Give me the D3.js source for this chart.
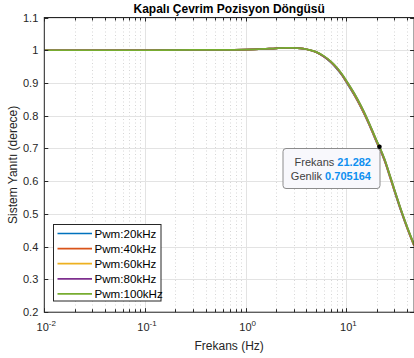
<!DOCTYPE html>
<html>
<head>
<meta charset="utf-8">
<script src="https://cdn.jsdelivr.net/npm/d3@7"></script>
<style>
  body { margin: 0; background: #fff; }
  svg { display: block; font-family: 'Liberation Sans', Arial, sans-serif; }
  .tick-label { font-size: 11px; fill: #262626; }
</style>
</head>
<body>
<div id="chart"></div>
<script>
const seriesNames = ['Pwm:20kHz', 'Pwm:40kHz', 'Pwm:60kHz', 'Pwm:80kHz', 'Pwm:100kHz'];
const seriesColors = ['#0072BD', '#D95319', '#EDB120', '#7E2F8E', '#77AC30'];

const freqs = [0.01, 0.03, 0.1, 0.3, 0.6, 1, 1.5, 2, 2.5, 3, 3.5, 4, 5, 6, 7, 8, 9, 10, 12, 14, 16, 18, 20, 21.282, 24, 27, 30, 35, 40, 47];

const pwm20 = [1.000, 1.000, 1.000, 1.001, 1.001, 1.002, 1.004, 1.006, 1.007, 1.007, 1.006, 1.003, 0.994, 0.980, 0.963, 0.944, 0.924, 0.902, 0.862, 0.824, 0.787, 0.751, 0.718, 0.700, 0.661, 0.613, 0.569, 0.507, 0.457, 0.402];
const pwm40 = [1.000, 1.000, 1.000, 1.001, 1.001, 1.002, 1.004, 1.006, 1.007, 1.007, 1.006, 1.003, 0.994, 0.980, 0.964, 0.945, 0.925, 0.903, 0.863, 0.825, 0.788, 0.752, 0.719, 0.701, 0.662, 0.614, 0.570, 0.508, 0.458, 0.403];
const pwm60 = [1.000, 1.000, 1.000, 1.001, 1.001, 1.002, 1.004, 1.006, 1.007, 1.007, 1.006, 1.003, 0.995, 0.981, 0.965, 0.946, 0.926, 0.905, 0.865, 0.827, 0.790, 0.754, 0.721, 0.703, 0.664, 0.616, 0.572, 0.509, 0.459, 0.404];
const pwm80 = [1.000, 1.000, 1.000, 1.001, 1.001, 1.002, 1.004, 1.006, 1.007, 1.007, 1.006, 1.003, 0.995, 0.981, 0.965, 0.947, 0.927, 0.906, 0.867, 0.829, 0.792, 0.756, 0.723, 0.705, 0.666, 0.618, 0.574, 0.511, 0.461, 0.406];
const pwm100 = [1.000, 1.000, 1.000, 1.001, 1.001, 1.002, 1.004, 1.006, 1.007, 1.007, 1.006, 1.003, 0.995, 0.982, 0.966, 0.948, 0.928, 0.907, 0.868, 0.830, 0.793, 0.757, 0.724, 0.706, 0.667, 0.619, 0.575, 0.512, 0.462, 0.407];
const seriesValues = [pwm20, pwm40, pwm60, pwm80, pwm100];

const yTicks = [0.2, 0.3, 0.4, 0.5, 0.6, 0.7, 0.8, 0.9, 1, 1.1];
const xDecades = [0.01, 0.1, 1, 10];
const xDecadeLabels = ['-2', '-1', '0', '1'];
const xMinor = [0.02, 0.03, 0.04, 0.05, 0.06, 0.07, 0.08, 0.09, 0.2, 0.3, 0.4, 0.5, 0.6, 0.7, 0.8, 0.9, 2, 3, 4, 5, 6, 7, 8, 9, 20, 30, 40];

const tipFreq = 21.282;
const tipAmp = 0.705164;

const width = 414;
const height = 358;
const plotLeft = 44.3;
const plotRight = 414.1;
const plotTop = 17.5;
const plotBottom = 312.2;

const svg = d3.select('#chart')
	.append('svg')
	.attr('width', width)
	.attr('height', height);

const x = d3.scaleLog().domain([0.01, 47]).range([plotLeft, plotRight]);
const y = d3.scaleLinear().domain([0.2, 1.1]).range([plotBottom, plotTop]);

// grid
svg.append('g')
	.selectAll('line')
	.data(xMinor)
	.join('line')
	.attr('x1', (d) => Math.round(x(d)) + 0.5)
	.attr('x2', (d) => Math.round(x(d)) + 0.5)
	.attr('y1', plotTop)
	.attr('y2', plotBottom)
	.attr('stroke', '#d6d6d6')
	.attr('stroke-dasharray', '1,2.5');

svg.append('g')
	.selectAll('line')
	.data(xDecades)
	.join('line')
	.attr('x1', (d) => Math.round(x(d)) + 0.5)
	.attr('x2', (d) => Math.round(x(d)) + 0.5)
	.attr('y1', plotTop)
	.attr('y2', plotBottom)
	.attr('stroke', '#e3e3e3');

svg.append('g')
	.selectAll('line')
	.data(yTicks)
	.join('line')
	.attr('x1', plotLeft)
	.attr('x2', plotRight)
	.attr('y1', (d) => Math.round(y(d)) + 0.5)
	.attr('y2', (d) => Math.round(y(d)) + 0.5)
	.attr('stroke', '#e3e3e3');

// series
svg.append('clipPath')
	.attr('id', 'plot-area')
	.append('rect')
	.attr('x', plotLeft)
	.attr('y', plotTop)
	.attr('width', plotRight - plotLeft)
	.attr('height', plotBottom - plotTop);

const line = d3.line()
	.x((d) => x(d[0]))
	.y((d) => y(d[1]))
	.curve(d3.curveMonotoneX);

svg.append('g')
	.attr('clip-path', 'url(#plot-area)')
	.selectAll('path')
	.data(seriesValues)
	.join('path')
	.attr('d', (vals) => line(freqs.map((f, i) => [f, vals[i]])))
	.attr('fill', 'none')
	.attr('stroke', (d, i) => seriesColors[i])
	.attr('stroke-width', 1.7);

// axes box and ticks
const axisColor = '#262626';
svg.append('rect')
	.attr('x', plotLeft)
	.attr('y', plotTop)
	.attr('width', plotRight - plotLeft)
	.attr('height', plotBottom - plotTop)
	.attr('fill', 'none')
	.attr('stroke', axisColor)
	.attr('stroke-width', 1);

const ticks = svg.append('g').attr('stroke', axisColor);
ticks.selectAll('.ytl')
	.data(yTicks)
	.join('line')
	.attr('x1', plotLeft)
	.attr('x2', plotLeft + 4)
	.attr('y1', (d) => Math.round(y(d)) + 0.5)
	.attr('y2', (d) => Math.round(y(d)) + 0.5);
ticks.selectAll('.ytr')
	.data(yTicks)
	.join('line')
	.attr('x1', plotRight - 4)
	.attr('x2', plotRight)
	.attr('y1', (d) => Math.round(y(d)) + 0.5)
	.attr('y2', (d) => Math.round(y(d)) + 0.5);
ticks.selectAll('.xtb')
	.data(xDecades.concat(xMinor))
	.join('line')
	.attr('x1', (d) => Math.round(x(d)) + 0.5)
	.attr('x2', (d) => Math.round(x(d)) + 0.5)
	.attr('y1', plotBottom)
	.attr('y2', (d) => plotBottom - (xDecades.includes(d) ? 4 : 3));
ticks.selectAll('.xtt')
	.data(xDecades.concat(xMinor))
	.join('line')
	.attr('x1', (d) => Math.round(x(d)) + 0.5)
	.attr('x2', (d) => Math.round(x(d)) + 0.5)
	.attr('y1', plotTop)
	.attr('y2', (d) => plotTop + (xDecades.includes(d) ? 4 : 3));

// tick labels
svg.selectAll('.ylab')
	.data(yTicks)
	.join('text')
	.attr('class', 'tick-label')
	.attr('text-anchor', 'end')
	.attr('x', plotLeft - 6)
	.attr('y', (d) => y(d) + 4)
	.text((d) => d3.format('')(d));

const xl = svg.selectAll('.xlab')
	.data(xDecades)
	.join('text')
	.attr('class', 'tick-label')
	.attr('text-anchor', 'middle')
	.attr('x', (d) => x(d) + 2)
	.attr('y', 331);
xl.append('tspan').text('10');
xl.append('tspan')
	.attr('dy', -5)
	.style('font-size', '8px')
	.text((d, i) => xDecadeLabels[i]);

// title and axis labels
svg.append('text')
	.attr('x', (plotLeft + plotRight) / 2)
	.attr('y', 13)
	.attr('text-anchor', 'middle')
	.style('font-size', '12px')
	.style('font-weight', 'bold')
	.attr('fill', '#000')
	.text('Kapalı Çevrim Pozisyon Döngüsü');

svg.append('text')
	.attr('x', (plotLeft + plotRight) / 2)
	.attr('y', 350)
	.attr('text-anchor', 'middle')
	.style('font-size', '12px')
	.attr('fill', '#262626')
	.text('Frekans (Hz)');

svg.append('text')
	.attr('transform', `translate(17,${(plotTop + plotBottom) / 2}) rotate(-90)`)
	.attr('text-anchor', 'middle')
	.style('font-size', '12px')
	.attr('fill', '#262626')
	.text('Sistem Yanıtı (derece)');

// legend
const legend = svg.append('g');
legend.append('rect')
	.attr('x', 53.5)
	.attr('y', 224.5)
	.attr('width', 107.5)
	.attr('height', 76.5)
	.attr('fill', '#fff')
	.attr('stroke', axisColor)
	.attr('stroke-width', 1);

const rowY = (i) => 233.5 + i * 15.1;
legend.selectAll('line')
	.data(seriesNames)
	.join('line')
	.attr('x1', 57.5)
	.attr('x2', 92)
	.attr('y1', (d, i) => rowY(i))
	.attr('y2', (d, i) => rowY(i))
	.attr('stroke', (d, i) => seriesColors[i])
	.attr('stroke-width', 1.7);
legend.selectAll('text')
	.data(seriesNames)
	.join('text')
	.attr('x', 94.5)
	.attr('y', (d, i) => rowY(i) + 4)
	.style('font-size', '11.6px')
	.attr('fill', '#000')
	.text((d) => d);

// data tip
const tip = svg.append('g');
tip.append('rect')
	.attr('x', 283)
	.attr('y', 148.5)
	.attr('width', 97)
	.attr('height', 40)
	.attr('rx', 3)
	.attr('fill', '#f8f8fc')
	.attr('stroke', '#8c8c8c');

const tipRows = [['Frekans ', tipFreq.toFixed(3)], ['Genlik ', String(tipAmp)]];
tip.selectAll('text')
	.data(tipRows)
	.join('text')
	.attr('x', 371)
	.attr('y', (d, i) => 165.5 + i * 14)
	.attr('text-anchor', 'end')
	.style('font-size', '11px')
	.call((t) => t.append('tspan').attr('fill', '#404040').text((d) => d[0]))
	.call((t) => t.append('tspan').attr('fill', '#0e8ff0').style('font-weight', 'bold').text((d) => d[1]));

svg.append('circle')
	.attr('cx', x(tipFreq))
	.attr('cy', y(tipAmp))
	.attr('r', 2.3)
	.attr('fill', '#000');
</script>
</body>
</html>
